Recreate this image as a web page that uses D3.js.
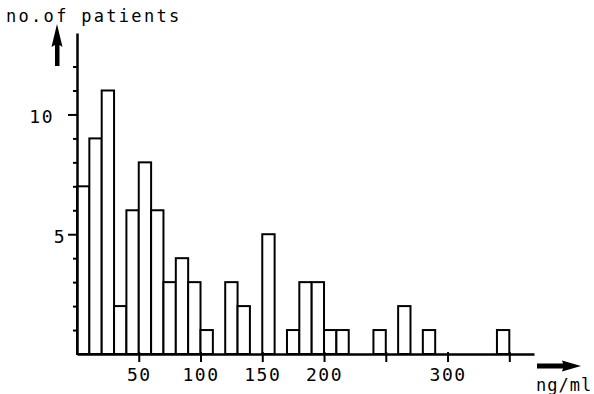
<!DOCTYPE html>
<html>
<head>
<meta charset="utf-8">
<script src="https://cdn.jsdelivr.net/npm/d3@7"></script>
<style>
  body { margin: 0; background: #fff; }
  svg { display: block; }
  text { font-family: "DejaVu Sans Mono", monospace; fill: #000; }
</style>
</head>
<body>
<div id="chart"></div>
<script>
// bins are 10 ng/ml wide, starting at these values
const binStarts = [0, 10, 20, 30, 40, 50, 60, 70, 80, 90, 100, 110, 120, 130, 140, 150, 160, 170,
    180, 190, 200, 210, 220, 230, 240, 250, 260, 270, 280, 290, 300, 310, 320, 330, 340];
const patients = [7, 9, 11, 2, 6, 8, 6, 3, 4, 3, 1, 0, 3, 2, 0, 5, 0, 1,
    3, 3, 1, 1, 0, 0, 1, 0, 2, 0, 1, 0, 0, 0, 0, 0, 1];
const binWidth = 10;

const xTicks = [50, 100, 150, 200, 250, 300, 350];
const xTickLabels = ["50", "100", "150", "200", "", "300", ""];
const yTicks = [1, 2, 3, 4, 5, 6, 7, 8, 9, 10, 11, 12];
const yLabelled = [5, 10];

const yTitle = "no.of patients";
const xTitle = "ng/ml";

const width = 594;
const height = 394;

const svg = d3.select("#chart")
    .append("svg")
    .attr("width", width)
    .attr("height", height);

svg.append("rect")
    .attr("width", width)
    .attr("height", height)
    .attr("fill", "#fff");

const x = d3.scaleLinear().domain([0, 370]).range([77, 534]);
const y = d3.scaleLinear().domain([0, 13.4]).range([354, 33]);

const bins = binStarts.map((s, i) => ({ start: s, count: patients[i] }))
    .filter(d => d.count > 0);

// bars
svg.append("g")
    .selectAll("rect")
    .data(bins)
    .enter()
    .append("rect")
    .attr("x", d => x(d.start))
    .attr("y", d => y(d.count))
    .attr("width", d => x(d.start + binWidth) - x(d.start))
    .attr("height", d => y(0) - y(d.count))
    .attr("fill", "#fff")
    .attr("stroke", "#000")
    .attr("stroke-width", 2);

// x axis
const xAxis = d3.axisBottom(x)
    .tickValues(xTicks)
    .tickSize(8)
    .tickSizeOuter(0)
    .tickPadding(6)
    .tickFormat((d, i) => xTickLabels[i]);

const gx = svg.append("g")
    .attr("transform", `translate(0,${y(0)})`)
    .call(xAxis);
gx.select(".domain").attr("stroke", "#000").attr("stroke-width", 2.5);
gx.selectAll(".tick line").attr("stroke", "#000").attr("stroke-width", 2).attr("y1", -2);
gx.selectAll(".tick text")
    .attr("font-family", "DejaVu Sans Mono")
    .style("font-size", "18px")
    .style("letter-spacing", "1.5px");

// y axis
const yAxis = d3.axisLeft(y)
    .tickValues(yTicks)
    .tickSize(4)
    .tickSizeOuter(0)
    .tickFormat(d => yLabelled.includes(d) ? String(d) : "");

const gy = svg.append("g")
    .attr("transform", `translate(${x(0)},0)`)
    .call(yAxis);
gy.select(".domain").attr("stroke", "#000").attr("stroke-width", 2.5);
gy.selectAll(".tick line")
    .attr("stroke", "#000")
    .attr("stroke-width", 2)
    .attr("x2", d => yLabelled.includes(d) ? -9 : -4);
gy.selectAll(".tick text")
    .attr("font-family", "DejaVu Sans Mono")
    .attr("x", d => d === 10 ? -23 : -11)
    .attr("dy", "0.45em")
    .style("font-size", "18px")
    .style("letter-spacing", "1.5px");

// axis titles and arrows
svg.append("text")
    .attr("x", 6)
    .attr("y", 22)
    .style("font-size", "17px")
    .style("letter-spacing", "2.3px")
    .text(yTitle);

svg.append("path")
    .attr("d", "M55,66 L55,45 L51.5,47 L57,24 L62.5,47 L59.5,45 L59.5,66 Z")
    .attr("fill", "#000");

svg.append("path")
    .attr("d", "M537,363.5 L563,363.5 L562,360.5 L581,366 L562,371.5 L563,368.5 L537,368.5 Z")
    .attr("fill", "#000");

svg.append("text")
    .attr("x", 536)
    .attr("y", 391)
    .style("font-size", "17px")
    .style("letter-spacing", "1px")
    .text(xTitle);
</script>
</body>
</html>
